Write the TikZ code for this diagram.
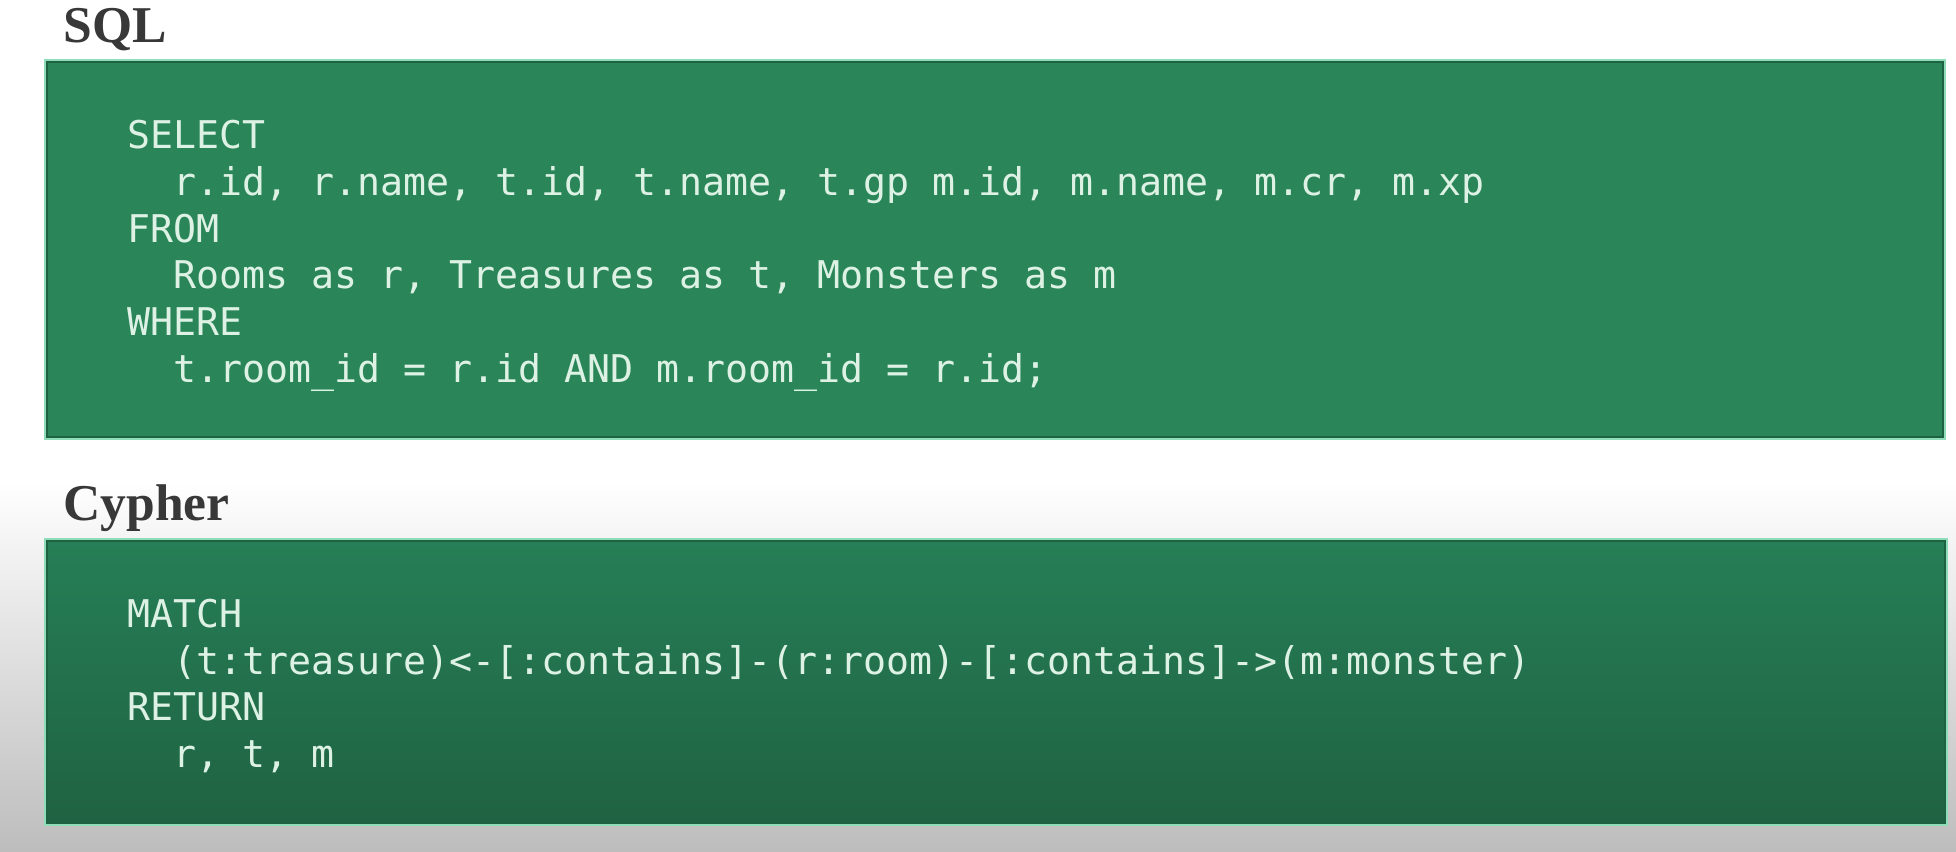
\documentclass[tikz,border=0pt]{standalone}
\usepackage{fontspec}
\setmainfont{Liberation Serif}
\setmonofont{DejaVu Sans Mono}
\usepackage{xcolor}
\usepackage{tikz}
\usetikzlibrary{positioning}
\definecolor{sqlgreen}{HTML}{2A8659}
\definecolor{cyphertop}{HTML}{267F56}
\definecolor{cypherbot}{HTML}{1F6242}
\definecolor{boxedge}{HTML}{1D6343}
\definecolor{boxhalo}{HTML}{8FDCB8}
\definecolor{codetext}{HTML}{DDF2E4}
\definecolor{headtext}{HTML}{383838}
\tikzset{
  title/.style={anchor=base west, inner sep=0pt, text=headtext, font=\fontsize{25.8}{30}\selectfont\bfseries},
  code/.style={anchor=base west, inner sep=0pt, text=codetext, font=\fontsize{19.1}{23.4}\selectfont\ttfamily},
  panel/.style={draw=boxedge, line width=0.8pt},
  halo/.style={draw=boxhalo, line width=0.6pt}
}

\begin{document}
\begin{tikzpicture}[x=0.5pt, y=-0.5pt]
  \useasboundingbox (0,0) rectangle (1956,852);
  % background
  \fill[white] (0,0) rectangle (1956,480);
  \shade[top color=white, bottom color=black!26] (0,480) rectangle (1956,852);

  % SQL panel
  \node[title] (sqlhead) at (63,42) {SQL};
  \draw[halo] (45,60) rectangle (1945,439);
  \filldraw[panel, fill=sqlgreen] (47,62) rectangle (1943,437);
  \node[code] (select) at (127,148) {SELECT};
  \node[code] (selcols) at (173,195) {r.id, r.name, t.id, t.name, t.gp m.id, m.name, m.cr, m.xp};
  \node[code] (from) at (127,242) {FROM};
  \node[code] (tables) at (173,288) {Rooms as r, Treasures as t, Monsters as m};
  \node[code] (where) at (127,335) {WHERE};
  \node[code] (cond) at (173,382) {t.room\_id = r.id AND m.room\_id = r.id;};

  % Cypher panel
  \node[title] (cypherhead) at (63,520) {Cypher};
  \draw[halo] (45,539) rectangle (1947,825);
  \shade[top color=cyphertop, bottom color=cypherbot] (47,541) rectangle (1945,823);
  \draw[panel] (47,541) rectangle (1945,823);
  \node[code] (match) at (127,627) {MATCH};
  \node[code] (pattern) at (173,674) {(t:treasure)<-[:contains]-(r:room)-[:contains]->(m:monster)};
  \node[code] (return) at (127,720) {RETURN};
  \node[code] (result) at (173,767) {r, t, m};
\end{tikzpicture}
\end{document}
